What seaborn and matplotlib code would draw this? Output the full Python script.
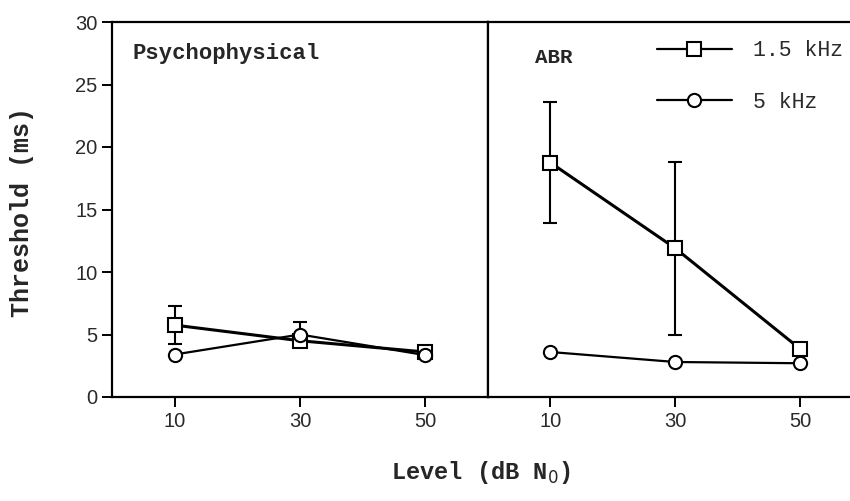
import matplotlib
matplotlib.use("Agg")
import matplotlib.pyplot as plt
import seaborn as sns
import numpy as np
import pandas as pd

# Data
levels = [10, 30, 50]
series = ["1.5 kHz", "5 kHz"]

psy_15k = [5.75, 4.5, 3.6]
psy_15k_err = [1.5, 0.0, 0.0]
psy_5k = [3.4, 5.0, 3.35]
psy_5k_err = [0.0, 1.0, 0.0]

abr_15k = [18.75, 11.9, 3.85]
abr_15k_err = [4.85, 6.9, 0.0]
abr_5k = [3.6, 2.8, 2.7]
abr_5k_err = [0.0, 0.0, 0.0]

sns.set_theme(style="ticks")
plt.rcParams['font.family'] = ['Liberation Sans', 'DejaVu Sans']
mono = ['Liberation Mono', 'DejaVu Sans Mono']

fig = plt.figure(figsize=(8.5, 5.01), dpi=100)
W, H = 850, 501
ax1 = fig.add_axes([112 / W, (H - 397) / H, 376 / W, 375 / H])
ax2 = fig.add_axes([488 / W, (H - 397) / H, 362 / W, 375 / H])

markers = {"1.5 kHz": "s", "5 kHz": "o"}
widths = {"1.5 kHz": 2.2, "5 kHz": 1.6}


def draw_panel(ax, vals15, err15, vals5, err5):
    df = pd.DataFrame({
        "level": levels * 2,
        "threshold": vals15 + vals5,
        "err": err15 + err5,
        "freq": [series[0]] * 3 + [series[1]] * 3,
    })
    # error bars first, so the open markers sit on top
    for name in series:
        sub = df[(df.freq == name) & (df.err > 0)]
        if len(sub):
            ax.errorbar(sub.level, sub.threshold, yerr=sub.err, fmt="none",
                        ecolor="black", elinewidth=1.5, capsize=5, capthick=1.5,
                        zorder=2)
    for name in series:
        sub = df[df.freq == name]
        sns.lineplot(data=sub, x="level", y="threshold", ax=ax, color="black",
                     marker=markers[name], markersize=9.5, markerfacecolor="white",
                     markeredgecolor="black", markeredgewidth=1.5,
                     linewidth=widths[name], label=name, zorder=3)
    ax.set_ylim(0, 30)
    ax.set_xticks(levels)
    ax.set_xlabel("")
    ax.set_ylabel("")
    for s in ax.spines.values():
        s.set_color("black")
        s.set_linewidth(1.6)
    ax.tick_params(axis="both", direction="out", length=7, width=1.4,
                   color="black", labelsize=14.5, labelcolor="#2a2a2a")


draw_panel(ax1, psy_15k, psy_15k_err, psy_5k, psy_5k_err)
draw_panel(ax2, abr_15k, abr_15k_err, abr_5k, abr_5k_err)

ax1.set_xlim(0, 60)
ax1.set_yticks(range(0, 31, 5))
ax1.get_legend().remove()

ax2.set_xlim(0, 58)
ax2.tick_params(axis="y", left=False, labelleft=False)
ax2.spines["right"].set_visible(False)

leg = ax2.legend(frameon=False, loc="upper left", bbox_to_anchor=(0.442, 0.974),
                 handlelength=3.5, labelspacing=1.4, handletextpad=1.0,
                 borderaxespad=0, prop={"family": mono, "size": 15.5})
for h in leg.get_lines():
    h.set_linewidth(1.6)
for t in leg.get_texts():
    t.set_color("#2a2a2a")

ax1.text(0.055, 0.915, "Psychophysical", transform=ax1.transAxes,
         family=mono, fontweight="bold", fontsize=16, va="center")
ax2.text(0.13, 0.905, "ABR", transform=ax2.transAxes,
         family=mono, fontweight="bold", fontsize=15, va="center")

fig.text(22 / W, 1 - 212 / H, "Threshold (ms)", rotation=90, family=mono,
         fontweight="bold", fontsize=18, ha="center", va="center")
fig.text(481 / W, 1 - 472 / H, "Level (dB N$_0$)", family=mono,
         fontweight="bold", fontsize=17, ha="center", va="center")

fig.savefig("out.png", dpi=100)
